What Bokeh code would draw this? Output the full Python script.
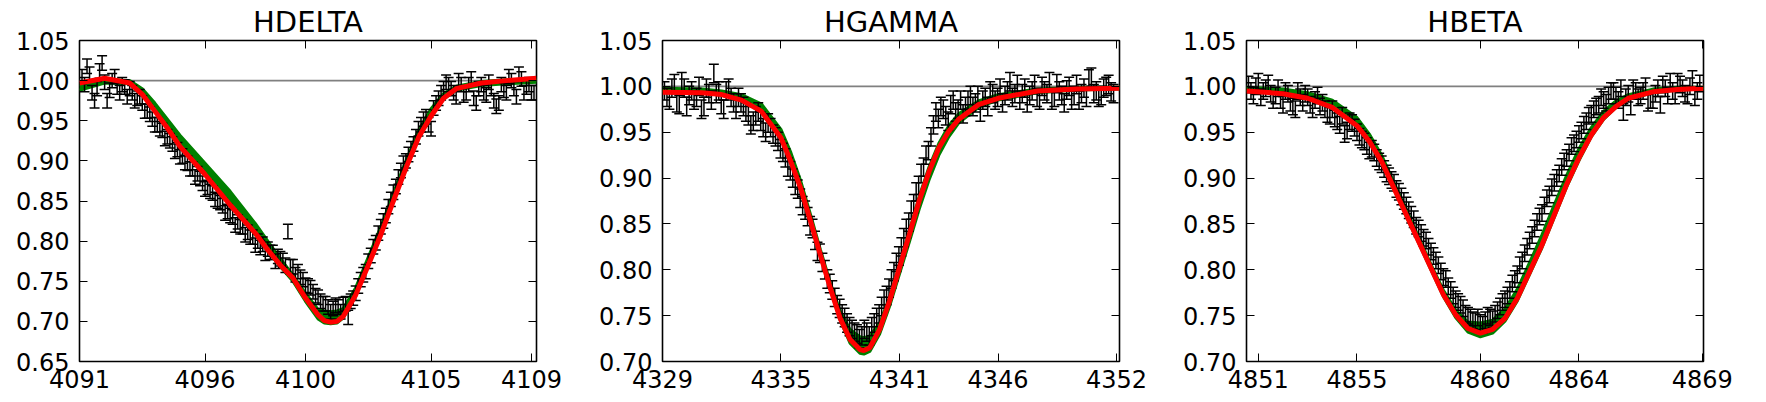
from bokeh.plotting import figure
from bokeh.models import (Span, FixedTicker, PrintfTickFormatter, LinearAxis,
                          Range1d)
from bokeh.layouts import row
from bokeh.embed import file_html
from bokeh.resources import INLINE

# ---------------- HDELTA ----------------
hd_title = "HDELTA"
hd_xrange = (4091.0, 4109.2)
hd_yrange = (0.65, 1.05)
hd_xticks = [4091, 4096, 4100, 4105, 4109]
hd_yticks = [0.65, 0.70, 0.75, 0.80, 0.85, 0.90, 0.95, 1.00, 1.05]
# observed spectrum, two interleaved pixel sets (start wavelength, step)
hd_a_x0, hd_b_x0, hd_step = 4091.1, 4091.2, 0.2
hd_flux_a = [1.005, 1.018, 0.985, 0.990, 1.022, 0.975, 1.000, 0.992, 0.995, 0.980,
             0.985, 0.978, 0.972, 0.962, 0.952, 0.945, 0.938, 0.930, 0.921, 0.914,
             0.906, 0.897, 0.890, 0.884, 0.872, 0.867, 0.860, 0.850, 0.844, 0.837,
             0.830, 0.824, 0.818, 0.811, 0.805, 0.800, 0.796, 0.790, 0.786, 0.781,
             0.776, 0.812, 0.768, 0.762, 0.752, 0.744, 0.737, 0.730, 0.722, 0.718,
             0.716, 0.718, 0.721, 0.705, 0.729, 0.744, 0.758, 0.775, 0.793, 0.810,
             0.825, 0.843, 0.861, 0.880, 0.897, 0.908, 0.921, 0.940, 0.952, 0.945,
             0.966, 0.978, 0.990, 0.995, 0.985, 1.000, 0.982, 0.995, 0.978, 0.990,
             0.985, 0.998, 0.975, 0.972, 0.988, 1.005, 0.990, 1.008, 0.985, 0.995,
             0.985]
hd_flux_b = [0.995, 1.008, 0.975, 1.012, 0.998, 0.988, 1.005, 0.985, 0.992, 0.990,
             0.975, 0.980, 0.962, 0.958, 0.945, 0.940, 0.928, 0.925, 0.912, 0.905,
             0.898, 0.890, 0.880, 0.878, 0.865, 0.862, 0.852, 0.848, 0.835, 0.832,
             0.820, 0.818, 0.808, 0.805, 0.795, 0.792, 0.785, 0.786, 0.775, 0.778,
             0.770, 0.768, 0.758, 0.755, 0.745, 0.742, 0.732, 0.725, 0.722, 0.712,
             0.720, 0.712, 0.722, 0.725, 0.735, 0.752, 0.762, 0.782, 0.798, 0.818,
             0.832, 0.852, 0.868, 0.888, 0.900, 0.915, 0.930, 0.945, 0.955, 0.940,
             0.972, 0.985, 0.998, 0.990, 0.980, 0.995, 0.985, 1.002, 0.972, 0.995,
             0.982, 0.990, 0.968, 0.995, 0.985, 1.000, 0.980, 1.002, 0.992, 0.985]
hd_err = 0.009
hd_mx = [4091.0, 4092.0, 4093.0, 4093.5, 4094.0, 4094.5, 4095.0, 4096.0, 4097.0,
         4098.0, 4098.5, 4099.0, 4099.5, 4100.0, 4100.5, 4100.75, 4101.0, 4101.25,
         4101.5, 4102.0, 4102.5, 4103.0, 4103.5, 4104.0, 4104.5, 4105.0, 4105.5,
         4106.0, 4107.0, 4108.0, 4109.2]
hd_red = [0.997, 1.003, 0.997, 0.983, 0.962, 0.941, 0.918, 0.883, 0.845,
          0.810, 0.789, 0.770, 0.754, 0.729, 0.708, 0.701, 0.699, 0.700,
          0.706, 0.733, 0.770, 0.808, 0.850, 0.891, 0.929, 0.956, 0.978,
          0.990, 0.997, 1.000, 1.003]
hd_glo = [0.988, 0.997, 0.996, 0.984, 0.963, 0.942, 0.920, 0.884, 0.846,
          0.808, 0.788, 0.768, 0.750, 0.725, 0.703, 0.698, 0.697, 0.698,
          0.704, 0.733, 0.770, 0.808, 0.850, 0.891, 0.929, 0.956, 0.977,
          0.988, 0.994, 0.996, 0.998]
hd_ghi = [0.995, 1.002, 1.000, 0.990, 0.972, 0.952, 0.932, 0.897, 0.862,
          0.822, 0.800, 0.778, 0.758, 0.735, 0.715, 0.713, 0.712, 0.713,
          0.716, 0.742, 0.780, 0.818, 0.860, 0.900, 0.938, 0.965, 0.984,
          0.993, 0.999, 1.001, 1.002]

# ---------------- HGAMMA ----------------
hg_title = "HGAMMA"
hg_xrange = (4329.0, 4352.15)
hg_yrange = (0.70, 1.05)
hg_xticks = [4329, 4335, 4341, 4346, 4352]
hg_yticks = [0.70, 0.75, 0.80, 0.85, 0.90, 0.95, 1.00, 1.05]
hg_a_x0, hg_b_x0, hg_step = 4329.1, 4329.225, 0.25
hg_flux_a = [0.995, 0.985, 1.003, 0.980, 0.998, 0.990, 0.985, 1.000, 0.978, 0.992,
             1.014, 0.995, 0.975, 0.998, 0.982, 0.988, 0.978, 0.968, 0.962, 0.972,
             0.955, 0.960, 0.948, 0.940, 0.928, 0.912, 0.900, 0.888, 0.870, 0.858,
             0.845, 0.820, 0.808, 0.790, 0.778, 0.762, 0.752, 0.742, 0.735, 0.730,
             0.728, 0.732, 0.738, 0.748, 0.760, 0.772, 0.790, 0.808, 0.825, 0.845,
             0.865, 0.885, 0.905, 0.925, 0.945, 0.972, 0.978, 0.968, 0.980, 0.972,
             0.985, 0.978, 0.990, 0.982, 0.972, 0.988, 0.995, 0.985, 0.998, 0.990,
             1.005, 0.992, 0.985, 0.998, 0.990, 1.002, 0.985, 0.995, 1.005, 0.988,
             0.995, 0.982, 1.000, 0.990, 0.985, 0.998, 1.008, 0.992, 0.988, 0.998,
             1.002, 0.992]
hg_flux_b = [0.988, 0.998, 0.982, 1.005, 0.978, 0.995, 0.988, 0.975, 0.998, 0.985,
             0.992, 0.980, 0.995, 0.988, 0.975, 0.982, 0.972, 0.958, 0.968, 0.962,
             0.950, 0.955, 0.945, 0.932, 0.922, 0.908, 0.892, 0.878, 0.865, 0.848,
             0.832, 0.818, 0.800, 0.785, 0.770, 0.758, 0.748, 0.738, 0.732, 0.725,
             0.735, 0.728, 0.742, 0.752, 0.768, 0.780, 0.798, 0.815, 0.835, 0.852,
             0.872, 0.892, 0.912, 0.930, 0.958, 0.965, 0.975, 0.962, 0.985, 0.975,
             0.970, 0.985, 0.978, 0.990, 0.985, 0.978, 0.992, 0.988, 0.982, 0.995,
             0.988, 1.002, 0.992, 0.982, 0.995, 0.988, 1.000, 0.992, 0.985, 1.003,
             0.990, 0.996, 0.985, 1.002, 0.992, 0.988, 1.010, 0.995, 0.990, 1.000,
             0.994]
hg_err = 0.010
hg_mx = [4329.0, 4331.0, 4332.0, 4333.0, 4334.0, 4335.0, 4335.5, 4336.0, 4336.5,
         4337.0, 4337.5, 4338.0, 4338.5, 4339.0, 4339.2, 4339.5, 4340.0, 4340.5,
         4341.0, 4341.5, 4342.0, 4342.5, 4343.0, 4343.5, 4344.0, 4345.0, 4346.0,
         4348.0, 4350.0, 4352.15]
hg_red = [0.9936, 0.993, 0.991, 0.985, 0.973, 0.944, 0.918, 0.889, 0.853,
          0.816, 0.780, 0.747, 0.724, 0.713, 0.712, 0.715, 0.735, 0.766,
          0.802, 0.838, 0.875, 0.907, 0.933, 0.951, 0.964, 0.980, 0.987,
          0.995, 0.997, 0.998]
hg_glo = [0.994, 0.993, 0.991, 0.985, 0.972, 0.943, 0.918, 0.888, 0.852,
          0.815, 0.779, 0.745, 0.720, 0.709, 0.708, 0.711, 0.730, 0.760,
          0.795, 0.830, 0.866, 0.898, 0.925, 0.945, 0.960, 0.977, 0.985,
          0.993, 0.996, 0.997]
hg_ghi = [0.998, 0.997, 0.995, 0.991, 0.981, 0.953, 0.928, 0.897, 0.860,
          0.822, 0.786, 0.755, 0.735, 0.727, 0.726, 0.728, 0.742, 0.770,
          0.805, 0.842, 0.880, 0.912, 0.938, 0.957, 0.970, 0.984, 0.991,
          0.997, 0.999, 0.999]

# ---------------- HBETA ----------------
hb_title = "HBETA"
hb_xrange = (4850.52, 4869.05)
hb_yrange = (0.70, 1.05)
hb_xticks = [4851, 4855, 4860, 4864, 4869]
hb_yticks = [0.70, 0.75, 0.80, 0.85, 0.90, 0.95, 1.00, 1.05]
hb_a_x0, hb_b_x0, hb_step = 4850.6, 4850.7, 0.2
hb_flux_a = [1.002, 0.990, 1.005, 0.995, 1.003, 0.985, 0.998, 0.980, 0.992, 0.978,
             0.995, 0.982, 0.988, 0.975, 0.990, 0.982, 0.970, 0.975, 0.962, 0.968,
             0.952, 0.960, 0.950, 0.942, 0.935, 0.932, 0.922, 0.915, 0.905, 0.898,
             0.888, 0.880, 0.870, 0.860, 0.848, 0.840, 0.832, 0.820, 0.810, 0.798,
             0.790, 0.778, 0.768, 0.762, 0.752, 0.748, 0.744, 0.742, 0.745, 0.748,
             0.752, 0.760, 0.768, 0.778, 0.790, 0.805, 0.818, 0.832, 0.845, 0.858,
             0.870, 0.882, 0.895, 0.905, 0.918, 0.928, 0.938, 0.948, 0.958, 0.968,
             0.975, 0.980, 0.985, 0.990, 0.995, 0.985, 0.972, 0.992, 0.998, 0.988,
             0.995, 0.982, 0.985, 0.998, 1.002, 0.990, 0.995, 1.005, 0.998, 0.990,
             1.008, 0.995]
hb_flux_b = [0.995, 1.000, 0.988, 0.998, 0.992, 0.990, 0.985, 0.995, 0.982, 0.975,
             0.988, 0.992, 0.980, 0.985, 0.978, 0.975, 0.968, 0.965, 0.958, 0.948,
             0.962, 0.955, 0.945, 0.940, 0.930, 0.928, 0.918, 0.910, 0.902, 0.895,
             0.885, 0.875, 0.865, 0.855, 0.845, 0.835, 0.825, 0.815, 0.805, 0.792,
             0.782, 0.772, 0.765, 0.758, 0.750, 0.745, 0.748, 0.740, 0.750, 0.746,
             0.756, 0.765, 0.772, 0.785, 0.795, 0.810, 0.825, 0.838, 0.852, 0.862,
             0.878, 0.890, 0.900, 0.912, 0.922, 0.935, 0.942, 0.952, 0.962, 0.970,
             0.978, 0.988, 0.982, 0.995, 0.990, 0.998, 0.988, 0.978, 0.995, 0.990,
             1.000, 0.985, 0.992, 0.980, 0.998, 1.005, 0.990, 1.002, 0.992, 1.000,
             0.988, 1.003]
hb_err = 0.009
hb_mx = [4850.52, 4852.0, 4853.0, 4854.0, 4855.0, 4855.5, 4856.0, 4856.5, 4857.0,
         4857.5, 4858.0, 4858.5, 4859.0, 4859.5, 4860.0, 4860.5, 4861.0, 4861.5,
         4862.0, 4862.5, 4863.0, 4863.5, 4864.0, 4864.5, 4865.0, 4865.5, 4866.0,
         4867.0, 4868.0, 4869.05]
hb_red = [0.995, 0.992, 0.987, 0.977, 0.957, 0.940, 0.918, 0.889, 0.860,
          0.831, 0.802, 0.773, 0.751, 0.736, 0.731, 0.735, 0.747, 0.769,
          0.798, 0.827, 0.860, 0.893, 0.922, 0.947, 0.966, 0.978, 0.987,
          0.994, 0.9965, 0.998]
hb_glo = [0.995, 0.992, 0.987, 0.977, 0.957, 0.940, 0.917, 0.888, 0.858,
          0.829, 0.800, 0.771, 0.748, 0.732, 0.727, 0.731, 0.744, 0.766,
          0.795, 0.824, 0.857, 0.890, 0.919, 0.945, 0.964, 0.977, 0.986,
          0.993, 0.996, 0.997]
hb_ghi = [0.999, 0.997, 0.993, 0.985, 0.966, 0.948, 0.925, 0.895, 0.866,
          0.836, 0.806, 0.778, 0.756, 0.743, 0.742, 0.745, 0.757, 0.779,
          0.808, 0.838, 0.871, 0.903, 0.932, 0.955, 0.973, 0.984, 0.991,
          0.997, 0.999, 0.999]

FONT = "DejaVu Sans"


def style_axis(ax, ticks, fmt, show_labels, standoff):
    ax.ticker = FixedTicker(ticks=ticks)
    ax.formatter = PrintfTickFormatter(format=fmt)
    ax.axis_line_color = None
    ax.major_tick_in = 8
    ax.major_tick_out = 0
    ax.minor_tick_in = 0
    ax.minor_tick_out = 0
    ax.major_tick_line_color = "black"
    ax.major_tick_line_width = 1
    ax.major_label_text_font = FONT
    if show_labels:
        ax.major_label_text_color = "black"
        ax.major_label_text_font_size = "24px"
        ax.major_label_standoff = standoff
    else:
        ax.major_label_text_color = None
        ax.major_label_text_font_size = "1px"
        ax.major_label_standoff = 0


def grid(x0, step, n):
    return [round(x0 + step * i, 3) for i in range(n)]


def panel(title, xr, yr, xticks, yticks, xs, flux, err,
          mx, red, glo, ghi, left_border):
    p = figure(frame_width=457, frame_height=321,
               x_range=Range1d(*xr), y_range=Range1d(*yr),
               output_backend="svg", toolbar_location=None,
               min_border_left=left_border, min_border_right=35,
               min_border_top=0, min_border_bottom=36, title=title)
    p.title.text_font = FONT
    p.title.text_font_size = "29px"
    p.title.text_font_style = "normal"
    p.title.text_color = "black"
    p.title.align = "center"
    p.title.standoff = 4
    p.xgrid.visible = False
    p.ygrid.visible = False
    p.outline_line_color = "black"
    p.outline_line_width = 1.6
    p.outline_line_alpha = 1.0
    p.background_fill_color = "white"
    p.border_fill_color = "white"

    style_axis(p.xaxis[0], xticks, "%d", True, 8)
    style_axis(p.yaxis[0], yticks, "%.2f", True, 10)
    top = LinearAxis()
    right = LinearAxis()
    style_axis(top, xticks, "%d", False, 0)
    style_axis(right, yticks, "%.2f", False, 0)
    p.add_layout(top, "above")
    p.add_layout(right, "right")

    upper = [f + err for f in flux]
    lower = [f - err for f in flux]

    p.add_layout(Span(location=1.0, dimension="width", line_color="#808080",
                      line_width=1.6, level="underlay"))

    p.varea(x=mx, y1=glo, y2=ghi, fill_color="#008000")
    p.line(mx, glo, line_color="#008000", line_width=3)
    p.line(mx, ghi, line_color="#008000", line_width=3)

    p.segment(x0=xs, y0=lower, x1=xs, y1=upper, line_color="black",
              line_width=1.5)
    p.scatter(xs, upper, marker="dash", size=10, line_color="black",
              line_width=1.5)
    p.scatter(xs, lower, marker="dash", size=10, line_color="black",
              line_width=1.5)

    p.line(mx, red, line_color="#ff0000", line_width=5)
    return p


hd_x = grid(hd_a_x0, hd_step, len(hd_flux_a)) + grid(hd_b_x0, hd_step, len(hd_flux_b))
hg_x = grid(hg_a_x0, hg_step, len(hg_flux_a)) + grid(hg_b_x0, hg_step, len(hg_flux_b))
hb_x = grid(hb_a_x0, hb_step, len(hb_flux_a)) + grid(hb_b_x0, hb_step, len(hb_flux_b))

p1 = panel(hd_title, hd_xrange, hd_yrange, hd_xticks, hd_yticks, hd_x,
           hd_flux_a + hd_flux_b, hd_err, hd_mx, hd_red, hd_glo, hd_ghi, 79)
p2 = panel(hg_title, hg_xrange, hg_yrange, hg_xticks, hg_yticks, hg_x,
           hg_flux_a + hg_flux_b, hg_err, hg_mx, hg_red, hg_glo, hg_ghi, 91)
p3 = panel(hb_title, hb_xrange, hb_yrange, hb_xticks, hb_yticks, hb_x,
           hb_flux_a + hb_flux_b, hb_err, hb_mx, hb_red, hb_glo, hb_ghi, 92)

layout = row(p1, p2, p3)
open("out.html", "w").write(file_html(layout, INLINE))
